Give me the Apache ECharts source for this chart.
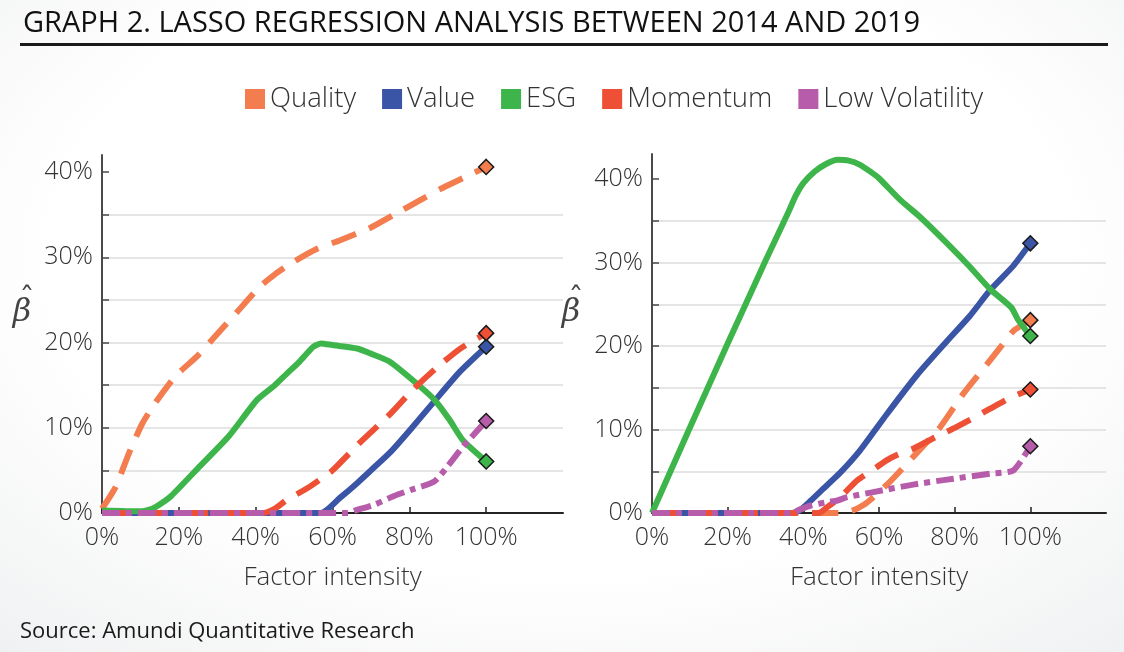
<!DOCTYPE html>
<html><head><meta charset="utf-8">
<script src="https://cdn.jsdelivr.net/npm/echarts@6/dist/echarts.min.js"></script>
<style>
html,body{margin:0;padding:0;width:1124px;height:652px;overflow:hidden;
background: radial-gradient(ellipse 75% 80% at 50% 40%, #ffffff 60%, #f0f1f2 100%);}
#chart{width:1124px;height:652px;}
</style></head><body><div id="chart"></div>
<script>
// ---------- DATA ----------
const SERIES_NAMES = ['Quality', 'Value', 'ESG', 'Momentum', 'Low Volatility'];
const X_TICKS = [0, 20, 40, 60, 80, 100];
const Y_TICKS = [0, 10, 20, 30, 40];
const Y_MINOR_TICKS = [0, 5, 10, 15, 20, 25, 30, 35, 40];

// Left panel: [factor intensity %, beta %]
const LEFT_QUALITY = [[0,0.5],[3.5,3],[7,7],[10.5,10.5],[14,13],[19,16],[25,18.5],[30,21],[35,23.5],[41,26.5],[45,28],[50,29.5],[56,31],[62,32],[70,33.5],[76,35],[82,36.5],[88,38],[94,39.3],[100,40.6]];
const LEFT_VALUE = [[0,0],[57,0],[62,1.8],[66.4,3.5],[70,5],[75.2,7.2],[80.3,9.8],[86.5,13.1],[93,16.5],[100,19.5]];
const LEFT_ESG = [[0,0.3],[10,0.2],[13,0.5],[15,1],[18,2],[25.5,5.5],[33,9],[40.4,13.3],[45,15],[48,16.3],[51.5,17.8],[55,19.5],[57,19.9],[60,19.7],[66.4,19.3],[70,18.7],[74.7,17.8],[80.3,15.8],[86.5,13.3],[90.5,10.9],[94,8.5],[100,6.05]];
const LEFT_MOMENTUM = [[0,0],[42,0],[45,0.5],[48,1.5],[53.4,2.9],[57,4],[60,5],[67,8.2],[75,11.6],[81,14.5],[87,17],[93,19.2],[100,21.1]];
const LEFT_LOWVOL = [[0,0],[64,0],[66,0.3],[71,1.0],[76,2.0],[81,2.8],[86.5,3.7],[90,5.5],[94,7.8],[100,10.8]];

// Right panel
const RIGHT_QUALITY = [[0,0],[50,0],[53,0.3],[56,1],[58.5,1.9],[63,3.8],[70,7.2],[76.2,10.3],[82.3,14.3],[89.4,18.3],[95.5,21.8],[97.4,22.4],[100,23.1]];
const RIGHT_VALUE = [[0,0],[37,0],[39,0.3],[42,1.5],[45,2.8],[49.7,4.8],[55,7.5],[62,11.8],[70,16.5],[78,20.6],[84,23.6],[89.4,26.7],[95.5,29.6],[100,32.3]];
const RIGHT_ESG = [[0,0],[10,10.2],[20,20.3],[30,30.2],[36,36],[38,38],[40,39.5],[43,40.9],[46,41.8],[49,42.3],[52,42.2],[55,41.7],[58,40.8],[60,40.1],[65.6,37.5],[71,35.4],[78,32.3],[84,29.5],[89.4,26.8],[95,24.6],[96.7,23.2],[100,21.2]];
const RIGHT_MOMENTUM = [[0,0],[44,0],[46.3,0.7],[50,2],[54.2,3.9],[58.5,5.2],[62,6.3],[65,7],[69,7.7],[75,9.1],[80,10.2],[85,11.4],[89,12.4],[94.7,13.8],[100,14.8]];
const RIGHT_LOWVOL = [[0,0],[37,0],[39,0.4],[42,0.9],[46.3,1.3],[49,1.5],[51.6,1.9],[58.5,2.5],[69,3.4],[78,4.0],[89.4,4.7],[95.5,5.1],[100,8.0]];

// ---------- STYLE ----------
const STYLES = {
  'Quality':        {color:'#F37D4E', dash:[26,14], z:2},
  'Value':          {color:'#3A55A5', dash:'solid', z:3},
  'ESG':            {color:'#3DB54A', dash:'solid', z:4},
  'Momentum':       {color:'#EE5035', dash:[26,14], z:5},
  'Low Volatility': {color:'#B75CAA', dash:[18,6,6,6], z:6}
};
const FONT = "'Open Sans', 'Noto Sans', sans-serif";

function makeSeries(name, data, idx) {
  const st = STYLES[name];
  const d = data.map((p, i) => i === data.length - 1
    ? {value:p, symbol:'diamond', symbolSize:15, itemStyle:{color:st.color, borderColor:'#1a1a1a', borderWidth:1.5}}
    : {value:p, symbol:'none'});
  return {
    name, type:'line', xAxisIndex:idx, yAxisIndex:idx, data:d,
    symbol:'diamond', showSymbol:true, smooth:0.2, clip:false,
    color:st.color,
    lineStyle:{width:6, type:st.dash, color:st.color, cap:'butt', join:'round'},
    itemStyle:{color:st.color},
    emphasis:{disabled:true}, z:st.z, animation:false
  };
}

function xAxis(idx) {
  return {
    type:'value', gridIndex:idx, min:0, max:120, interval:20,
    name:'Factor intensity', nameLocation:'middle', nameGap:52,
    nameTextStyle:{fontFamily:FONT, fontSize:26, fontWeight:300, color:'#333'},
    axisLine:{show:true, lineStyle:{color:'#222', width:2}},
    axisTick:{show:true, inside:true, length:6, lineStyle:{color:'#222', width:1.5}, customValues:X_TICKS},
    axisLabel:{fontFamily:FONT, fontSize:25, fontWeight:300, color:'#333', margin:12, customValues:X_TICKS,
      formatter: v => v <= 100 ? v + '%' : ''},
    splitLine:{show:false}
  };
}
function yAxis(idx, max) {
  return {
    type:'value', gridIndex:idx, min:0, max:max, interval:5,
    axisLine:{show:true, lineStyle:{color:'#4a4a4a', width:2}},
    axisTick:{show:true, inside:true, length:7, lineStyle:{color:'#4a4a4a', width:1.5}, customValues:Y_MINOR_TICKS},
    axisLabel:{fontFamily:FONT, fontSize:25, fontWeight:300, color:'#333', margin:9, customValues:Y_TICKS,
      formatter: v => (v % 10 === 0 && v <= 40) ? v + '%' : ''},
    splitLine:{show:true, showMaxLine:false, lineStyle:{color:'#e5e5e5', width:2}}
  };
}

const chart = echarts.init(document.getElementById('chart'), null, {renderer:'canvas'});
const option = {
  backgroundColor:'transparent',
  animation:false,
  title:{text:'GRAPH 2. LASSO REGRESSION ANALYSIS BETWEEN 2014 AND 2019', left:18, top:4,
    textStyle:{fontFamily:FONT, fontSize:29, fontWeight:'normal', color:'#111'}},
  legend:{data:SERIES_NAMES, left:245, top:85, icon:'rect', itemWidth:20, itemHeight:20, itemGap:26, padding:0,
    textStyle:{fontFamily:FONT, fontSize:27.5, fontWeight:300, color:'#333'}, selectedMode:false},
  grid:[
    {left:102, top:155, width:461, height:358},
    {left:652, top:154, width:454, height:359}
  ],
  xAxis:[xAxis(0), xAxis(1)],
  yAxis:[yAxis(0, 42), yAxis(1, 43)],
  graphic:[
    {type:'rect', left:20, top:43, shape:{width:1088, height:3}, style:{fill:'#1a1a1a'}},
    {type:'text', x:22, y:313, style:{text:'β', font:"italic 32px 'DejaVu Serif'", fill:'#444', align:'center', verticalAlign:'middle'}},
    {type:'text', x:27, y:300, style:{text:'ˆ', font:"30px 'DejaVu Serif'", fill:'#444', align:'center', verticalAlign:'middle'}},
    {type:'text', x:571, y:313, style:{text:'β', font:"italic 32px 'DejaVu Serif'", fill:'#444', align:'center', verticalAlign:'middle'}},
    {type:'text', x:576, y:300, style:{text:'ˆ', font:"30px 'DejaVu Serif'", fill:'#444', align:'center', verticalAlign:'middle'}},
    {type:'text', left:20, top:621, style:{text:'Source: Amundi Quantitative Research', font:"22px 'Open Sans'", fill:'#1a1a1a'}}
  ],
  series:[
    makeSeries('Quality', LEFT_QUALITY, 0),
    makeSeries('Value', LEFT_VALUE, 0),
    makeSeries('ESG', LEFT_ESG, 0),
    makeSeries('Momentum', LEFT_MOMENTUM, 0),
    makeSeries('Low Volatility', LEFT_LOWVOL, 0),
    makeSeries('Quality', RIGHT_QUALITY, 1),
    makeSeries('Value', RIGHT_VALUE, 1),
    makeSeries('ESG', RIGHT_ESG, 1),
    makeSeries('Momentum', RIGHT_MOMENTUM, 1),
    makeSeries('Low Volatility', RIGHT_LOWVOL, 1)
  ]
};
chart.setOption(option);
</script>
</body></html>
